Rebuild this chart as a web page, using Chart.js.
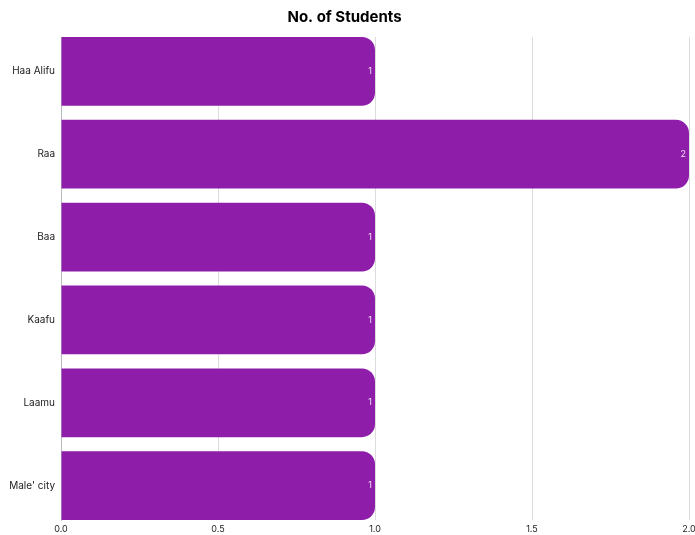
<!DOCTYPE html>
<html>
<head>
<meta charset="utf-8">
<script src="https://cdn.jsdelivr.net/npm/chart.js@4"></script>
<style>
  html, body { margin: 0; padding: 0; background: #fff; }
  #wrap { width: 695px; height: 535px; }
</style>
</head>
<body>
<div id="wrap"><canvas id="studentsChart" width="695" height="535"></canvas></div>
<script>
    // Данные графика
    const categories = ['Haa Alifu', 'Raa', 'Baa', 'Kaafu', 'Laamu', "Male' city"];
    const students = [1, 2, 1, 1, 1, 1];
    const xTicks = [0, 0.5, 1, 1.5, 2];

    const barColor = 'rgb(142, 30, 170)';
    const fontFamily = 'Inter, "Open Sans", sans-serif';

    // подписи значений в конце столбцов
    const valueLabels = {
        id: 'valueLabels',
        afterDatasetsDraw(chart) {
            const ctx = chart.ctx;
            const meta = chart.getDatasetMeta(0);
            ctx.save();
            ctx.font = '9px ' + fontFamily;
            ctx.fillStyle = 'rgba(255,255,255,0.85)';
            ctx.textAlign = 'right';
            ctx.textBaseline = 'middle';
            meta.data.forEach((bar, i) => {
                ctx.fillText(String(students[i]), bar.x - 3, bar.y);
            });
            ctx.restore();
        }
    };

    const ctx = document.getElementById('studentsChart').getContext('2d');
    const chart = new Chart(ctx, {
        type: 'bar',
        data: {
            datasets: [{
                label: 'No. of Students',
                data: students.map((v, i) => ({ x: v, y: i })),
                backgroundColor: barColor,
                borderRadius: 13,
                borderSkipped: 'start',
                categoryPercentage: 1,
                barPercentage: 0.83
            }]
        },
        options: {
            indexAxis: 'y',
            responsive: false,
            animation: false,
            layout: { padding: { left: 0, right: 6, top: 0, bottom: 0 } },
            plugins: {
                legend: { display: false },
                tooltip: { enabled: false },
                title: {
                    display: true,
                    text: 'No. of Students',
                    color: '#000',
                    font: { family: fontFamily, size: 15, weight: 'bold' },
                    padding: { top: 8, bottom: 11 }
                }
            },
            scales: {
                x: {
                    type: 'linear',
                    min: 0,
                    max: 2,
                    afterBuildTicks: s => { s.ticks = xTicks.map(v => ({ value: v })); },
                    afterFit: s => { s.height = 15; s.paddingLeft = 0; s.paddingRight = 0; },
                    grid: { color: '#dcdcdc', drawTicks: false },
                    border: { display: false },
                    ticks: {
                        padding: 4,
                        color: '#222',
                        font: { family: fontFamily, size: 9 },
                        callback: v => Number(v).toFixed(1)
                    }
                },
                y: {
                    type: 'linear',
                    reverse: true,
                    offset: false,
                    min: -0.415,
                    max: 5.415,
                    afterBuildTicks: s => { s.ticks = categories.map((c, i) => ({ value: i })); },
                    afterFit: s => { s.width = 61; s.paddingTop = 0; s.paddingBottom = 0; },
                    grid: { display: false, drawTicks: false },
                    border: { display: true, color: '#bbb' },
                    ticks: {
                        padding: 6,
                        color: '#222',
                        font: { family: fontFamily, size: 10 },
                        callback: v => categories[v]
                    }
                }
            }
        },
        plugins: [valueLabels]
    });
</script>
</body>
</html>
